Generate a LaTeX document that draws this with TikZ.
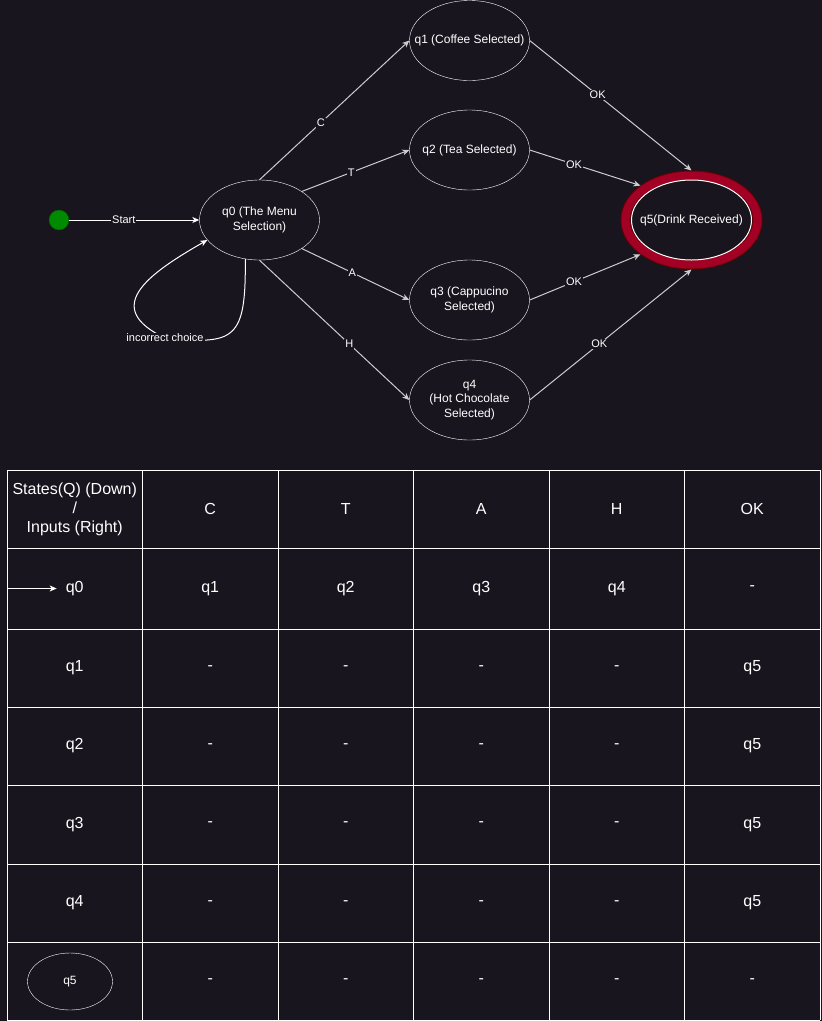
\documentclass[tikz,border=0pt]{standalone}
\usepackage{fontspec}
\setmainfont{Liberation Sans}
\usetikzlibrary{arrows.meta,shapes.geometric}
\definecolor{bgdark}{RGB}{24,21,30}
\definecolor{ringred}{RGB}{162,0,37}
\definecolor{ringdark}{RGB}{111,0,0}
\definecolor{startgreen}{RGB}{0,138,0}
\definecolor{startdark}{RGB}{0,87,0}
\definecolor{edgegray}{RGB}{205,205,205}

\begin{document}
\begin{tikzpicture}[x=1pt,y=-1pt]
      \tikzset{state/.style={draw=white, ellipse, inner sep=0pt, minimum width=120pt, minimum height=80pt},
               stext/.style={text=white, align=center, font=\fontsize{12}{14.5}\selectfont},
               final/.style={ellipse, draw=ringdark, line width=1pt, double=ringred, double distance=8pt, inner sep=0pt, outer sep=5pt, minimum width=132pt, minimum height=89pt},
               startdot/.style={circle, draw=startdark, fill=startgreen, inner sep=0pt, minimum size=20pt},
               elabel/.style={fill=bgdark, text=white, inner sep=1pt, font=\fontsize{11}{13}\selectfont},
               trans/.style={draw=edgegray, line width=1pt, -{Stealth[length=7pt,width=6pt,inset=2pt]}},
               loopline/.style={draw=white, line width=1pt, -{Stealth[length=7pt,width=6pt,inset=2pt]}},
               tblline/.style={draw=white, line width=1pt},
               tbltext/.style={text=white, align=center, inner sep=2pt, font=\fontsize{16}{19}\selectfont},
               tstate/.style={draw=white, ellipse, inner sep=0pt, minimum width=85pt, minimum height=57pt, text=white, font=\fontsize{12}{14}\selectfont}}
      \path[use as bounding box, fill=bgdark] (0,0) rectangle (822,1021);
%% Vertices
      	\node[startdot] (start) at (59,220) {};
      	\node[state, label={[stext]center:{q0 (The Menu\\Selection)}}] (q0) at (259.5,220) {};
      	\node[state, label={[stext]center:{q1 (Coffee Selected)}}] (q1) at (469.5,40.5) {};
      	\node[state, label={[stext]center:{q2 (Tea Selected)}}] (q2) at (469.5,150) {};
      	\node[state, label={[stext]center:{q3 (Cappucino\\Selected)}}] (q3) at (469.5,300) {};
      	\node[state, label={[stext]center:{q4\\(Hot Chocolate\\Selected)}}] (q4) at (469.5,400) {};
      	\node[final] (q5) at (691.5,220) {};
      	\draw[white, line width=1pt] (q5.center) ellipse [x radius=60pt, y radius=40pt];
      	\node[stext] (q5txt) at (q5.center) {q5(Drink Received)};
%Edges
		\path (start) edge[loopline] node[elabel, pos=.42] {Start} (q0);
		\path (q0.north) edge[trans] node[elabel, pos=.41] {C} (q1.west);
		\path (q0.34) edge[trans] node[elabel, pos=.46] {T} (q2.west);
		\path (q0.-34) edge[trans] node[elabel, pos=.47] {A} (q3.west);
		\path (q0.south) edge[trans] node[elabel, pos=.6] {H} (q4.west);
		\path (q1.east) edge[trans] node[elabel, pos=.42] {OK} (q5.north);
		\path (q2.east) edge[trans] node[elabel, pos=.4] {OK} (q5.146);
		\path (q3.east) edge[trans] node[elabel, pos=.4] {OK} (q5.214);
		\path (q4.east) edge[trans] node[elabel, pos=.43] {OK} (q5.south);
	%loop
		\draw [loopline] (q0.250) .. controls (246,340) and (235,345) .. (165,338) node[elabel] {incorrect choice}
			.. controls (102,308) and (146,275) .. (q0.201);
%Table
	\foreach \x in {7,142.5,278,413.5,549,684.5,820}
		\draw [tblline] (\x,470) -- (\x,1020);
	\foreach \y in {470,548,629,707,785,864,942,1020}
		\draw [tblline] (7,\y) -- (820,\y);
	\node[tbltext] (thead) at (74.75,509) {States(Q) (Down)\\/\\Inputs (Right)};
	\foreach \lbl/\x in {C/210.25, T/345.75, A/481.25, H/616.75, OK/752.25}
		\node[tbltext] (t\lbl) at (\x,509) {\lbl};
	\foreach \y/\st/\va/\vb/\vc/\vd/\ve in {588.5/q0/q1/q2/q3/q4/-, 668/q1/-/-/-/-/q5, 746/q2/-/-/-/-/q5, 824.5/q3/-/-/-/-/q5, 903/q4/-/-/-/-/q5}{
		\node[tbltext] (t\st) at (74.75,\y) {\st};
		\node[tbltext] (\st-C) at (210.25,\y) {\va};
		\node[tbltext] (\st-T) at (345.75,\y) {\vb};
		\node[tbltext] (\st-A) at (481.25,\y) {\vc};
		\node[tbltext] (\st-H) at (616.75,\y) {\vd};
		\node[tbltext] (\st-OK) at (752.25,\y) {\ve};
	}
	\node[tstate] (tq5) at (70,981.5) {q5};
	\foreach \lbl/\x in {C/210.25, T/345.75, A/481.25, H/616.75, OK/752.25}
		\node[tbltext] (q5-\lbl) at (\x,981) {-};
	\coordinate (tin) at (7,588.5);
	\draw [loopline, shorten >=7pt] (tin) -- (tq0);

\end{tikzpicture}
\end{document}
